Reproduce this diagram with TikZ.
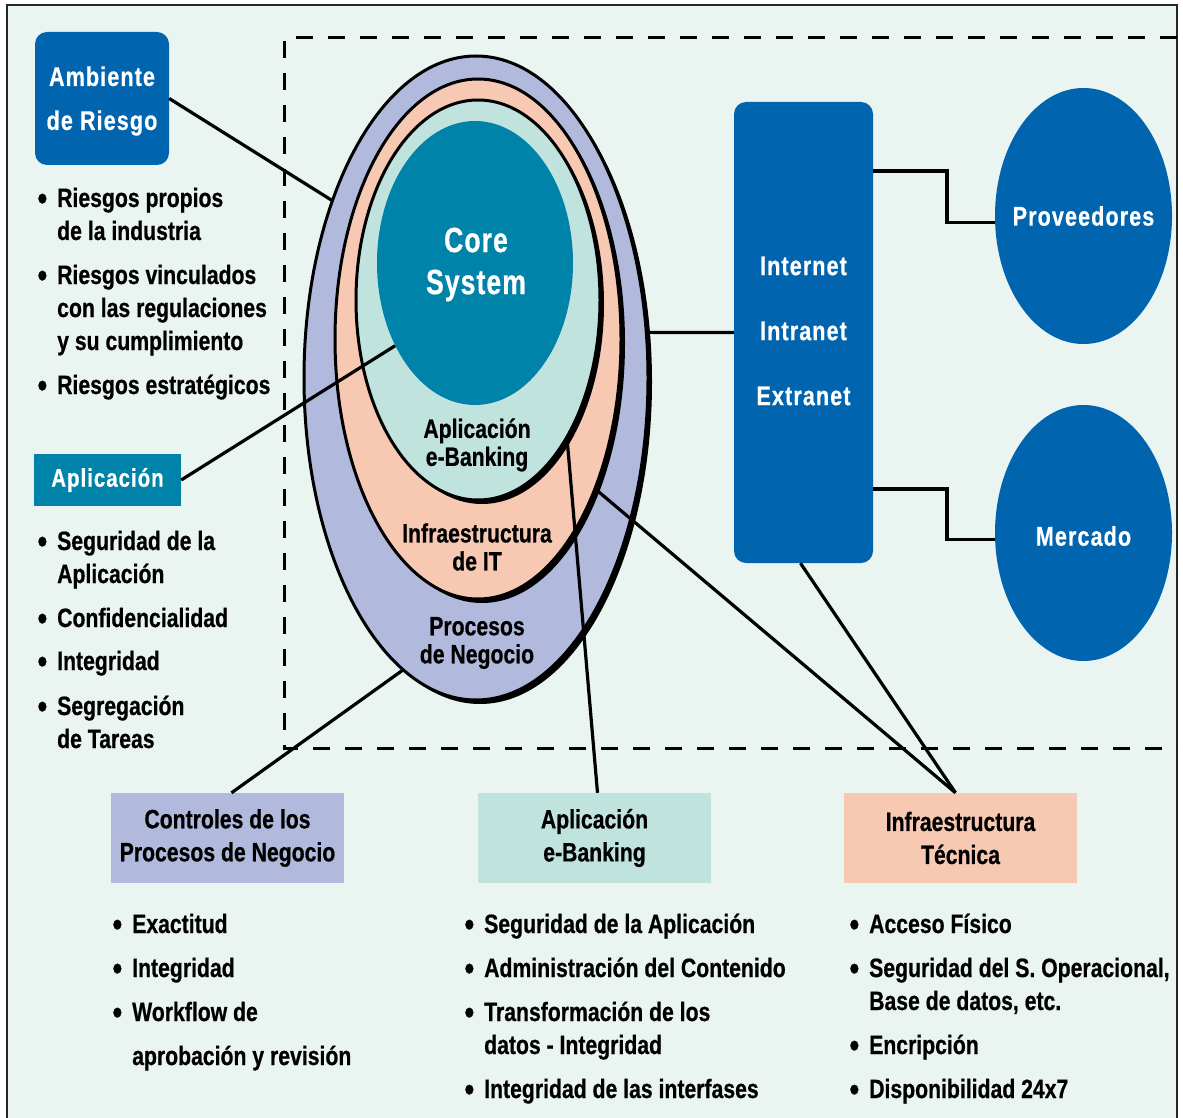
\documentclass[tikz,border=0pt]{standalone}
\usepackage{fontspec}
\usetikzlibrary{shapes.geometric}
\newfontfamily\cond{Liberation Sans Bold}[FakeStretch=0.8,FakeBold=0.6]
\newfontfamily\condsp{Liberation Sans Bold}[FakeStretch=0.8,FakeBold=0.6,LetterSpace=4]
\newfontfamily\bigcond{Liberation Sans Bold}[FakeStretch=0.76,FakeBold=0.6,LetterSpace=3]
\definecolor{bgmint}{HTML}{EAF4F0}
\definecolor{navy}{HTML}{0064AE}
\definecolor{tealc}{HTML}{0083A9}
\definecolor{lav}{HTML}{B1B9DC}
\definecolor{salm}{HTML}{F7C9B3}
\definecolor{aqua}{HTML}{C1E3DE}
\newcommand\bu{\llap{\raisebox{-3pt}{\scalebox{1.3}{\textbullet}}\hspace{10pt}}}

\begin{document}
\begin{tikzpicture}[x=1pt,y=-1pt,
  body/.style={font=\cond\fontsize{26.5}{33}\selectfont, inner sep=0, anchor=base west},
  ringlbl/.style={font=\cond\fontsize{26.5}{28}\selectfont, align=center, inner sep=0},
  ring/.style={ellipse, inner sep=0, outer sep=0, draw=black, line width=3},
  ringshadow/.style={ellipse, inner sep=0, outer sep=0, fill=black},
  bluebox/.style={fill=navy, rounded corners=12, inner sep=0},
  whitetext/.style={text=white, align=center, inner sep=0},
  party/.style={ellipse, fill=navy, inner sep=0, minimum width=177, minimum height=256},
  partytext/.style={whitetext, font=\condsp\fontsize{27}{30}\selectfont},
  catbox/.style={inner sep=0, minimum width=233, minimum height=90, align=center,
    font=\cond\fontsize{26.5}{33}\selectfont},
  link/.style={line width=3.2, draw=black},
]
\useasboundingbox (0,0) rectangle (1183,1118);

% page and frame
\fill[white] (0,0) rectangle (1183,1118);
\fill[bgmint] (7,5) rectangle (1177,1118);
\draw[line width=2.5, color=black!85] (7,1118) -- (7,5) -- (1177,5) -- (1177,1118);

% dashed boundary of the e-banking environment
\draw[line width=3, dash pattern=on 17pt off 15pt] (1177,38) -- (284,38) -- (284,748) -- (1177,748);

% nested rings
\node[ringshadow, minimum width=344, minimum height=644] (outerSh) at (480,382) {};
\node[ring, fill=lav, minimum width=344, minimum height=644] (outer) at (476,378) {};
\node[ringshadow, minimum width=286, minimum height=520] (salSh) at (482,343) {};
\node[ring, fill=salm, minimum width=286, minimum height=520] (sal) at (478,339) {};
\node[ringshadow, minimum width=244, minimum height=400] (aquaSh) at (482,304) {};
\node[ring, fill=aqua, minimum width=244, minimum height=400] (aq) at (478,300) {};
\node[ellipse, inner sep=0, fill=tealc, minimum width=196, minimum height=284] (core) at (475,263) {};
\node[whitetext, font=\bigcond\fontsize{35}{42}\selectfont] (coreTxt) at (476,264.5) {Core\\System};

\node[ringlbl] (lblApp) at (477,445) {Aplicación\\e-Banking};
\node[ringlbl] (lblInf) at (477,547) {Infraestructura\\de IT};
\node[ringlbl] (lblProc) at (477,643) {Procesos\\de Negocio};

% left column
\node[bluebox, minimum width=134, minimum height=133] (amb) at (102,98.5) {};
\node[whitetext, font=\condsp\fontsize{27}{44}\selectfont] (ambTxt) at (102,101) {Ambiente\\de Riesgo};
\node[body] (r1) at (57,207) {\bu Riesgos propios};
\node[body] (r1b) at (57,240) {de la industria};
\node[body] (r2) at (57,284) {\bu Riesgos vinculados};
\node[body] (r2b) at (57,317) {con las regulaciones};
\node[body] (r2c) at (57,350) {y su cumplimiento};
\node[body] (r3) at (57,394) {\bu Riesgos estratégicos};

\node[fill=tealc, inner sep=0, minimum width=147, minimum height=52, text=white,
  font=\condsp\fontsize{25.5}{30}\selectfont] (apl) at (107.5,480) {Aplicación};
\node[body] (a1) at (57,550) {\bu Seguridad de la};
\node[body] (a1b) at (57,583) {Aplicación};
\node[body] (a2) at (57,627) {\bu Confidencialidad};
\node[body] (a3) at (57,670) {\bu Integridad};
\node[body] (a4) at (57,715) {\bu Segregación};
\node[body] (a4b) at (57,748) {de Tareas};

% channels and external parties
\node[bluebox, minimum width=139, minimum height=461] (net) at (803.5,332.5) {};
\node[whitetext, font=\condsp\fontsize{27}{65}\selectfont] (netTxt) at (803.5,331) {Internet\\Intranet\\Extranet};
\node[party] (prov) at (1083.5,216) {};
\node[partytext] (provTxt) at (1083.5,216) {Proveedores};
\node[party] (merc) at (1083.5,533) {};
\node[partytext] (mercTxt) at (1083.5,536) {Mercado};

% control categories
\node[catbox, fill=lav] (ctl) at (227.5,838) {Controles de los\\Procesos de Negocio};
\node[catbox, fill=aqua] (ebk) at (594.5,838) {Aplicación\\e-Banking};
\node[catbox, fill=salm] (inf) at (960.5,838) {Infraestructura\\Técnica};

\node[body] (c1) at (132,933) {\bu Exactitud};
\node[body] (c2) at (132,977) {\bu Integridad};
\node[body] (c3) at (132,1021) {\bu Workflow de};
\node[body] (c3b) at (132,1065) {aprobación y revisión};

\node[body] (e1) at (484,933) {\bu Seguridad de la Aplicación};
\node[body] (e2) at (484,977) {\bu Administración del Contenido};
\node[body] (e3) at (484,1021) {\bu Transformación de los};
\node[body] (e3b) at (484,1054) {datos - Integridad};
\node[body] (e4) at (484,1098) {\bu Integridad de las interfases};

\node[body] (t1) at (869,933) {\bu Acceso Físico};
\node[body] (t2) at (869,977) {\bu Seguridad del S. Operacional,};
\node[body] (t2b) at (869,1010) {Base de datos, etc.};
\node[body] (t3) at (869,1054) {\bu Encripción};
\node[body] (t4) at (869,1098) {\bu Disponibilidad 24x7};

% connectors
\draw[link] (amb.east) -- (outer.129);
\draw[link] (apl.east) -- (core.226);
\draw[link] (outer.15) -- (net.west);
\draw[link] (outer.256) -- ([xshift=4pt]ctl.north);
\draw[link] (aq.303) -- ([xshift=3pt]ebk.north);
\draw[link] (sal.308) -- ([xshift=-5pt]inf.north);
\draw[link] ([xshift=-3pt]net.south) -- ([xshift=-5pt]inf.north);
\coordinate (stepA) at (947,171);
\coordinate (stepB) at (947,489);
\draw[link] (stepA -| net.east) -- (stepA) |- (prov.184);
\draw[link] (stepB -| net.east) -- (stepB) |- (merc.184);
\end{tikzpicture}
\end{document}
